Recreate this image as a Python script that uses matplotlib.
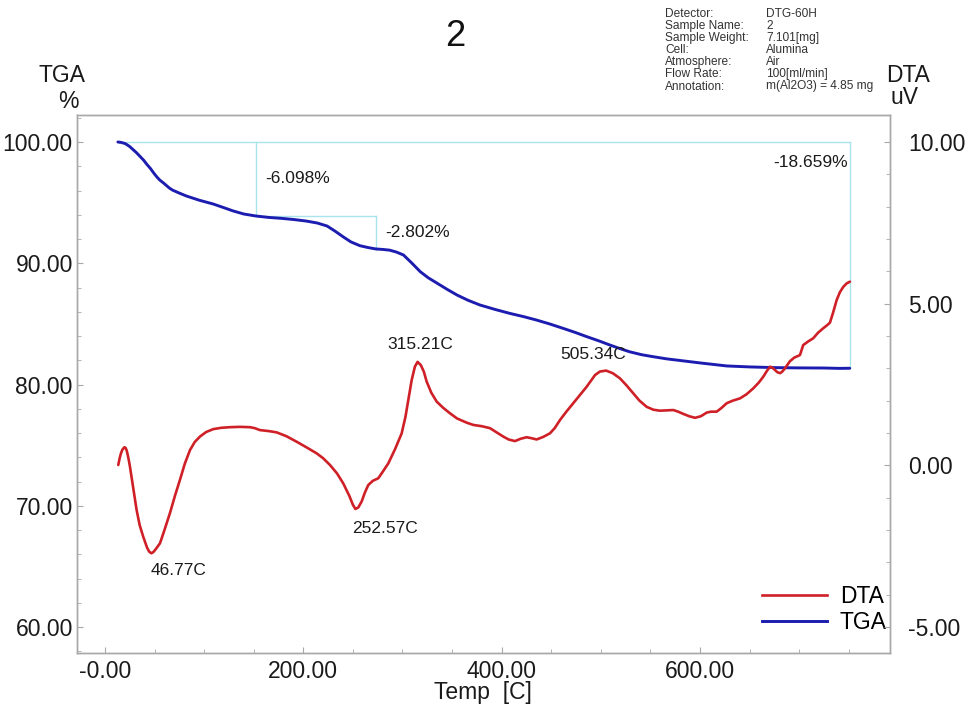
import matplotlib
matplotlib.use("Agg")
import matplotlib.pyplot as plt
from matplotlib.ticker import FixedLocator, MultipleLocator, NullFormatter
from matplotlib.lines import Line2D

plt.rcParams["font.family"] = ["Liberation Sans", "DejaVu Sans"]

# ---- measured curves ----
tga_temp = [13, 16, 20, 22, 25, 28, 32, 35, 39, 42, 46, 49, 52, 55, 59, 62, 65, 68,
            74, 82, 95, 109, 120, 129, 140,
            152, 165, 177, 190, 203, 214, 224, 232, 240, 248, 257, 265, 273, 280,
            287, 294, 301, 309, 318, 326, 335, 345, 355, 366, 378, 393, 408, 422,
            435, 449, 462, 474, 486, 498, 509, 519, 529, 541, 553, 566, 580, 600,
            627, 650, 677, 700, 725, 740, 751]
tga_pct = [100.00, 99.97, 99.88, 99.79, 99.62, 99.40, 99.10, 98.84, 98.50, 98.18,
           97.80, 97.46, 97.15, 96.88, 96.62, 96.41, 96.20, 96.04,
           95.82, 95.55, 95.20, 94.89, 94.58, 94.32, 94.06,
           93.90, 93.78, 93.71, 93.61, 93.48, 93.32, 93.07, 92.65, 92.19, 91.76,
           91.45, 91.30, 91.18, 91.14, 91.08, 90.92, 90.68, 90.05, 89.30, 88.80,
           88.35, 87.85, 87.38, 86.95, 86.56, 86.20, 85.87, 85.60, 85.32, 84.98,
           84.63, 84.30, 83.94, 83.60, 83.26, 82.97, 82.70, 82.46, 82.29, 82.12,
           81.98, 81.78, 81.53, 81.45, 81.39, 81.37, 81.36, 81.33, 81.34]

dta_temp = [13.4, 14.8, 16, 17.5, 18.5, 19.6, 20.8, 21.9, 23, 24.1, 25.2, 28.5, 31.9,
            35, 38.6, 42.5, 44.6, 46.77, 48.9, 51,
            55.5, 60, 65.5, 70.5, 75.6, 80.5, 85.7, 90.5, 95.8, 102, 109.2, 117, 126,
            136, 146.2, 151, 156.3, 165, 173.1, 183, 193.3, 203, 213.5, 220, 226.9,
            234, 240.3, 246.5, 250, 252.57, 255.5, 258.8, 262, 265.5, 270, 275.6, 280.5,
            285.7, 292.5, 299.2, 303, 305.9, 309.3, 312.5, 315.21, 318.5, 321.5,
            324.4, 329, 334.5, 341, 347.9, 355, 364.7, 371.4, 380, 388.2, 395, 401.6,
            407, 413.4, 419, 425.2, 430, 435.3, 442, 448.7, 453.5, 458.8, 465, 472.2,
            479, 485.7, 494.1, 499, 505.34, 512, 519.3, 526, 532.7, 539, 546.2, 553,
            559.6, 566, 573.1, 578, 583.2, 589, 595, 601, 606.7, 611, 616.8, 621.5,
            626.9, 633, 640.3, 647, 653.7, 659, 663.8, 667.5, 670.6, 673, 675.6, 678,
            680.7, 683, 685.7, 690.7, 695, 700.8, 704.1, 709, 714.2, 719, 724.3, 728,
            731, 734, 737.8, 741, 744.5, 748, 751.2]
dta_uv = [0.01, 0.22, 0.36, 0.48, 0.52, 0.56, 0.54, 0.46, 0.32, 0.15, -0.04, -0.70,
          -1.38, -1.85, -2.21, -2.55, -2.67, -2.72, -2.68, -2.60,
          -2.41, -2.00, -1.48, -0.95, -0.45, 0.05, 0.47, 0.72, 0.89,
          1.03, 1.12, 1.16, 1.18, 1.19, 1.18, 1.15, 1.09, 1.06, 1.02, 0.90, 0.73,
          0.56, 0.37, 0.22, 0.01, -0.25, -0.56, -0.95, -1.22, -1.35, -1.30, -1.12, -0.85,
          -0.61, -0.48, -0.40, -0.18, 0.06, 0.50, 0.99, 1.50, 2.02, 2.64, 3.05, 3.20,
          3.10, 2.90, 2.59, 2.25, 1.97, 1.78, 1.61, 1.45, 1.32, 1.25, 1.21, 1.15,
          1.02, 0.89, 0.80, 0.75, 0.82, 0.87, 0.84, 0.80, 0.88, 0.99, 1.15, 1.40,
          1.65, 1.92, 2.18, 2.43, 2.79, 2.90, 2.93, 2.85, 2.69, 2.47, 2.23, 2.00,
          1.81, 1.72, 1.69, 1.70, 1.71, 1.66, 1.59, 1.52, 1.47, 1.52, 1.63, 1.66,
          1.66, 1.77, 1.92, 2.00, 2.07, 2.20, 2.38, 2.55, 2.74, 2.92, 3.05, 3.02,
          2.95, 2.88, 2.85, 2.90, 3.00, 3.22, 3.33, 3.41, 3.72, 3.83, 3.93, 4.10,
          4.24, 4.33, 4.41, 4.70, 5.11, 5.35, 5.52, 5.63, 5.68]

# peak labels on the DTA curve
peak_temp = [46.77, 252.57, 315.21, 505.34]
peak_uv = [-2.72, -1.35, 3.20, 2.93]
peak_text = ["46.77C", "252.57C", "315.21C", "505.34C"]

# TGA step analysis
step_start = 13
step_bounds = [152, 273]
step_levels = [100.0, 93.902, 91.100]
step_text = ["-6.098%", "-2.802%"]
total_end = 751
total_level = 81.341
total_text = "-18.659%"

# axis ticks
x_ticks = [0, 200, 400, 600]
x_tick_labels = ["-0.00", "200.00", "400.00", "600.00"]
tga_ticks = [60, 70, 80, 90, 100]
dta_ticks = [-5, 0, 5, 10]

info_keys = ["Detector:", "Sample Name:", "Sample Weight:", "Cell:", "Atmosphere:",
             "Flow Rate:", "Annotation:"]
info_vals = ["DTG-60H", "2", "7.101[mg]", "Alumina", "Air", "100[ml/min]",
             "m(Al2O3) = 4.85 mg"]

RED = "#cf2027"
BLUE = "#1c1cb0"
CYAN = "#a9e3ee"
SPINE = "#a8a8a8"
W, H = 965, 707
FS = 16.5

fig = plt.figure(figsize=(W / 100, H / 100), dpi=100)
ax = fig.add_axes([77 / W, 1 - 653 / H, (890 - 77) / W, (653 - 115) / H])
ax2 = ax.twinx()

ax.set_xlim(-28.2, 791.6)
ax.set_ylim(57.856, 102.227)
ax2.set_ylim(-5.804, 10.835)

# step lines
ax.plot([step_start, total_end], [100, 100], color=CYAN, lw=1.0, zorder=1)
ax.plot([step_bounds[0], step_bounds[0]], [step_levels[0], step_levels[1]], color=CYAN, lw=1.0, zorder=1)
ax.plot([step_bounds[0], step_bounds[1]], [step_levels[1], step_levels[1]], color=CYAN, lw=1.0, zorder=1)
ax.plot([step_bounds[1], step_bounds[1]], [step_levels[1], step_levels[2]], color=CYAN, lw=1.0, zorder=1)
ax.plot([total_end, total_end], [100, total_level], color=CYAN, lw=1.0, zorder=1)

ax.plot(tga_temp, tga_pct, color=BLUE, lw=2.1, zorder=3,
        solid_joinstyle="round", solid_capstyle="round")
ax2.plot(dta_temp, dta_uv, color=RED, lw=1.9, zorder=3,
         solid_joinstyle="round", solid_capstyle="round")

# step labels
px = 72 / 100  # pixel -> points
ax.annotate(step_text[0], (step_bounds[0], step_levels[0]), xytext=(10 * px, -36 * px),
            textcoords="offset points", ha="left", va="center", fontsize=12.5, color="#1a1a1a")
ax.annotate(step_text[1], (step_bounds[1], step_levels[1]), xytext=(10 * px, -17 * px),
            textcoords="offset points", ha="left", va="center", fontsize=12.5, color="#1a1a1a")
ax.annotate(total_text, (total_end, 100), xytext=(-2 * px, -20 * px),
            textcoords="offset points", ha="right", va="center", fontsize=12.5, color="#1a1a1a")

# peak labels
peak_offsets = [(-1, -17), (-3, -20), (-30, 17), (-46, 16)]
for t, v, s, (dx, dy) in zip(peak_temp, peak_uv, peak_text, peak_offsets):
    ax2.annotate(s, (t, v), xytext=(dx * px, dy * px), textcoords="offset points",
                 ha="left", va="center", fontsize=12.5, color="#1a1a1a")

# axes styling
for a in (ax, ax2):
    for sp in a.spines.values():
        sp.set_color(SPINE)
        sp.set_linewidth(1.0)
ax.xaxis.set_major_locator(FixedLocator(x_ticks))
ax.set_xticklabels(x_tick_labels)
ax.xaxis.set_minor_locator(MultipleLocator(50))
ax.yaxis.set_major_locator(FixedLocator(tga_ticks))
ax.set_yticklabels([f"{v:.2f}" for v in tga_ticks])
ax.yaxis.set_minor_locator(MultipleLocator(2))
ax2.yaxis.set_major_locator(FixedLocator(dta_ticks))
ax2.set_yticklabels([f"{v:.2f}" for v in dta_ticks])
ax2.yaxis.set_minor_locator(MultipleLocator(1))
ax.yaxis.set_minor_formatter(NullFormatter())
ax2.yaxis.set_minor_formatter(NullFormatter())

ax.tick_params(axis="both", which="both", direction="in", color=SPINE, labelsize=FS,
               labelcolor="#1a1a1a")
ax.tick_params(axis="both", which="major", length=4, pad=3)
ax.tick_params(axis="both", which="minor", length=3)
ax.tick_params(axis="x", which="major", pad=5)
ax2.tick_params(axis="y", which="both", direction="in", color=SPINE, labelsize=FS,
                labelcolor="#1a1a1a")
ax2.tick_params(axis="y", which="major", length=4, pad=13)
ax2.tick_params(axis="y", which="minor", length=3)

# legend
handles = [Line2D([], [], color=RED, lw=1.9), Line2D([], [], color=BLUE, lw=2.1)]
ax.legend(handles, ["DTA", "TGA"], loc="lower right", bbox_to_anchor=(887 / W, 1 - 634 / H),
          bbox_transform=fig.transFigure, frameon=False, fontsize=FS, handlelength=2.85,
          handletextpad=0.55, labelspacing=0.12, borderpad=0, borderaxespad=0)

# titles and axis captions
fig.text(455 / W, 1 - 37 / H, "2", ha="center", va="center", fontsize=26, color="#111111")
fig.text(62 / W, 1 - 76 / H, "TGA", ha="center", va="center", fontsize=FS, color="#1a1a1a")
fig.text(68 / W, 1 - 101 / H, "%", ha="center", va="center", fontsize=FS, color="#1a1a1a")
fig.text(908 / W, 1 - 76 / H, "DTA", ha="center", va="center", fontsize=FS, color="#1a1a1a")
fig.text(905 / W, 1 - 98 / H, "uV", ha="center", va="center", fontsize=FS, color="#1a1a1a")
fig.text(483 / W, 1 - 692 / H, "Temp  [C]", ha="center", va="center", fontsize=FS,
         color="#1a1a1a")

# instrument information block
for i, (k, v) in enumerate(zip(info_keys, info_vals)):
    y = 1 - (16.6 + 12.15 * i) / H
    fig.text(665 / W, y, k, ha="left", va="baseline", fontsize=8.6, color="#333333")
    fig.text(766 / W, y, v, ha="left", va="baseline", fontsize=8.6, color="#333333")

fig.savefig("out.png", dpi=100, facecolor="white")
